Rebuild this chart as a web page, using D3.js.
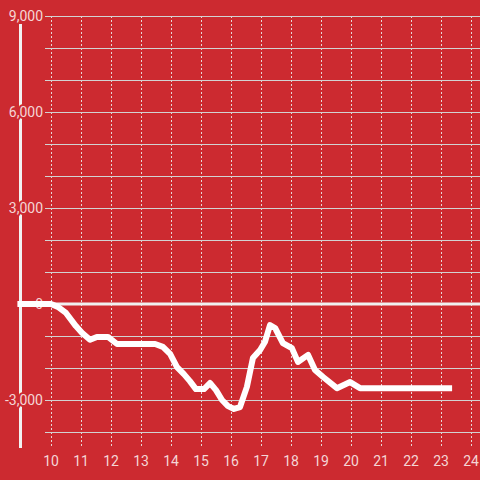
<!DOCTYPE html>
<html><head><meta charset="utf-8">
<script src="https://cdn.jsdelivr.net/npm/d3@7"></script>
<style>html,body{margin:0;padding:0;background:#cc2a30;}svg{display:block;}</style>
</head><body><svg id="c" width="480" height="480"></svg>
<script>
const xValues = [8.88, 10.0, 10.23, 10.5, 10.83, 11.03, 11.3, 11.53, 11.9, 12.2, 13.47, 13.73, 13.97, 14.2, 14.43, 14.63, 14.83, 15.1, 15.3, 15.5, 15.7, 15.9, 16.1, 16.3, 16.53, 16.73, 16.97, 17.13, 17.3, 17.47, 17.73, 18.03, 18.23, 18.57, 18.8, 19.07, 19.53, 19.97, 20.3, 23.37];
const yValues = [0, 0, -90, -280, -690, -900, -1120, -1030, -1030, -1250, -1250, -1340, -1560, -1970, -2190, -2410, -2660, -2660, -2470, -2690, -3000, -3190, -3280, -3220, -2590, -1690, -1440, -1190, -660, -750, -1220, -1380, -1810, -1590, -2060, -2280, -2630, -2440, -2630, -2630];
const xTicks = [10, 11, 12, 13, 14, 15, 16, 17, 18, 19, 20, 21, 22, 23, 24];
const yGrid = [-4000, -3000, -2000, -1000, 0, 1000, 2000, 3000, 4000, 5000, 6000, 7000, 8000, 9000];
const yLabels = [-3000, 0, 3000, 6000, 9000];

const svg = d3.select("#c");
const W = 480, H = 480;
svg.append("rect").attr("width", W).attr("height", H).attr("fill", "#cc2a30");

const x = d3.scaleLinear().domain([9, 24.3]).range([21, 480]);
const y = d3.scaleLinear().domain([-4000, 9000]).range([432, 16]);
const fmt = d3.format(",");

// vertical dotted gridlines
svg.append("g").selectAll("line").data(xTicks).join("line")
  .attr("x1", d => x(d) + 0.5).attr("x2", d => x(d) + 0.5)
  .attr("y1", 16).attr("y2", 448)
  .attr("stroke", "#e6d6d6").attr("stroke-width", 1)
  .attr("stroke-dasharray", "2,2");

// horizontal gridlines
svg.append("g").selectAll("line").data(yGrid.filter(d => d !== 0)).join("line")
  .attr("x1", 45).attr("x2", W)
  .attr("y1", d => y(d) + 0.5).attr("y2", d => y(d) + 0.5)
  .attr("stroke", "#d2d2d2").attr("stroke-width", 1.2);

// zero line
svg.append("line").attr("x1", 45).attr("x2", W)
  .attr("y1", y(0)).attr("y2", y(0))
  .attr("stroke", "#f0f0f0").attr("stroke-width", 3);

// y axis line
svg.append("line").attr("x1", 20.5).attr("x2", 20.5)
  .attr("y1", 24).attr("y2", 448)
  .attr("stroke", "#f2f2f2").attr("stroke-width", 3);

// y labels
svg.append("g").selectAll("text").data(yLabels).join("text")
  .attr("x", 43).attr("y", d => y(d)).attr("dy", "0.36em")
  .attr("text-anchor", "end")
  .attr("font-family", "Roboto, 'Liberation Sans', Arial, sans-serif")
  .attr("font-size", 14)
  .attr("fill", "#f4d6d6")
  .attr("stroke", "#cc2a30").attr("stroke-width", 4)
  .attr("paint-order", "stroke")
  .text(d => fmt(d).replace("−", "-"));

// x labels
svg.append("g").selectAll("text").data(xTicks).join("text")
  .attr("x", d => x(d)).attr("y", 466)
  .attr("text-anchor", "middle")
  .attr("font-family", "Roboto, 'Liberation Sans', Arial, sans-serif")
  .attr("font-size", 14)
  .attr("fill", "#f4d6d6")
  .text(d => d);

// data line
const pts = xValues.map((v, i) => [v, yValues[i]]);
svg.append("path").datum(pts)
  .attr("d", d3.line().x(d => x(d[0])).y(d => y(d[1])))
  .attr("fill", "none").attr("stroke", "#ffffff")
  .attr("stroke-width", 6).attr("stroke-linejoin", "round");
</script></body></html>
